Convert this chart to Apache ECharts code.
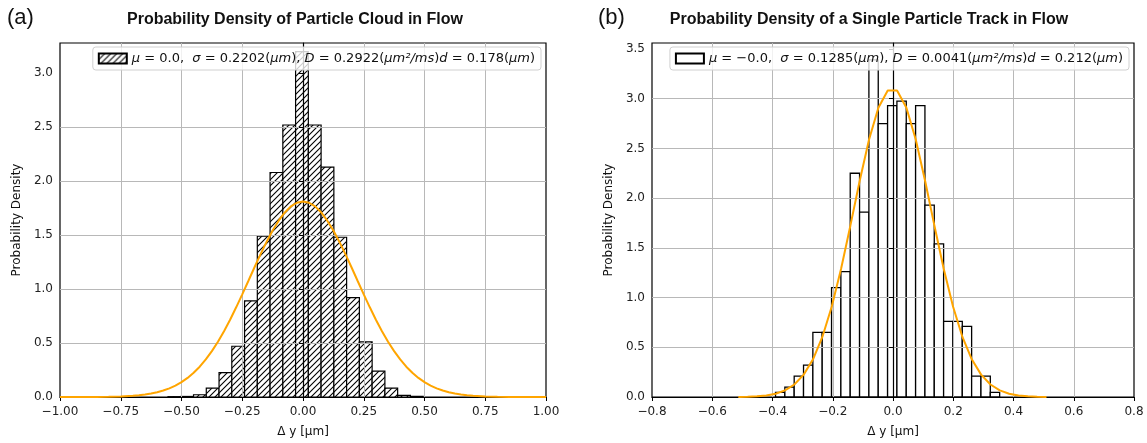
<!DOCTYPE html>
<html>
<head>
<meta charset="utf-8">
<script src="https://cdn.jsdelivr.net/npm/echarts@6.0.0/dist/echarts.min.js"></script>
<style>
    html, body { margin: 0; padding: 0; background: #fff; }
    #chart { width: 1147px; height: 443px; }
</style>
</head>
<body>
<div id="chart"></div>
<script>
// (a) particle cloud: histogram bin edges and densities
var binEdgesA = [-0.5555, -0.503, -0.4505, -0.398, -0.3455, -0.293, -0.2405, -0.188, -0.1355, -0.083, -0.0305,
    0.022, 0.0745, 0.127, 0.1795, 0.232, 0.2845, 0.337, 0.3895, 0.442, 0.4945];
var densityA = [0.003, 0.005, 0.021, 0.082, 0.226, 0.47, 0.89, 1.49, 2.08, 2.52,
    3.2, 2.52, 2.13, 1.48, 0.92, 0.51, 0.24, 0.082, 0.015, 0.006];
// (a) fitted gaussian
var fitXA = [-1, -0.95, -0.9, -0.85, -0.8, -0.75, -0.7, -0.675, -0.65, -0.625, -0.6, -0.575, -0.55, -0.525,
    -0.5, -0.475, -0.45, -0.425, -0.4, -0.375, -0.35, -0.325, -0.3, -0.275, -0.25, -0.225, -0.2, -0.175,
    -0.15, -0.125, -0.1, -0.075, -0.05, -0.025, 0,
    0.025, 0.05, 0.075, 0.1, 0.125, 0.15, 0.175, 0.2, 0.225, 0.25, 0.275, 0.3, 0.325, 0.35, 0.375, 0.4,
    0.425, 0.45, 0.475, 0.5, 0.525, 0.55, 0.575, 0.6, 0.625, 0.65, 0.675, 0.7, 0.75, 0.8, 0.85, 0.9, 0.95, 1];
var fitYA = [0.0001, 0.0002, 0.0004, 0.0011, 0.0025, 0.0055, 0.0116, 0.0165, 0.0232, 0.0323, 0.0442, 0.0599,
    0.0801, 0.1056, 0.1376, 0.177, 0.2245, 0.281, 0.348, 0.425, 0.512, 0.61, 0.716, 0.831, 0.951, 1.075,
    1.2, 1.321, 1.437, 1.542, 1.634, 1.71, 1.766, 1.8, 1.812,
    1.8, 1.766, 1.71, 1.634, 1.542, 1.437, 1.321, 1.2, 1.075, 0.951, 0.831, 0.716, 0.61, 0.512, 0.425,
    0.348, 0.281, 0.2245, 0.177, 0.1376, 0.1056, 0.0801, 0.0599, 0.0442, 0.0323, 0.0232, 0.0165, 0.0116,
    0.0055, 0.0025, 0.0011, 0.0004, 0.0002, 0.0001];

// (b) single particle track
var binEdgesB = [-0.39, -0.359, -0.328, -0.297, -0.266, -0.235, -0.204, -0.173, -0.142, -0.111, -0.08,
    -0.049, -0.018, 0.013, 0.044, 0.075, 0.106, 0.137, 0.168, 0.199, 0.23, 0.261, 0.292, 0.323, 0.354];
var densityB = [0.047, 0.1, 0.21, 0.32, 0.65, 0.65, 1.1, 1.26, 2.25, 1.86,
    3.39, 2.75, 2.93, 2.975, 2.75, 2.93, 1.93, 1.54, 0.76, 0.76, 0.71, 0.21, 0.21, 0.047];
var fitXB = [-0.5135, -0.4825, -0.4515, -0.4205, -0.3895, -0.3585, -0.3275, -0.2965, -0.2655, -0.2345,
    -0.2035, -0.1725, -0.1415, -0.1105, -0.0795, -0.0485, -0.0175, 0.0135, 0.0445, 0.0755, 0.1065, 0.1375,
    0.1685, 0.1995, 0.2305, 0.2615, 0.2925, 0.3235, 0.3545, 0.3855, 0.4165, 0.4475, 0.4785, 0.5095];
var fitYB = [0.0011, 0.0029, 0.0068, 0.0154, 0.0329, 0.0662, 0.1255, 0.225, 0.379, 0.604,
    0.908, 1.288, 1.723, 2.174, 2.589, 2.908, 3.083, 3.083, 2.908, 2.589, 2.174, 1.723,
    1.288, 0.908, 0.604, 0.379, 0.225, 0.1255, 0.0662, 0.0329, 0.0154, 0.0068, 0.0029, 0.0011];

// tick labels
var xTicksA = [-1, -0.75, -0.5, -0.25, 0, 0.25, 0.5, 0.75, 1];
var yTicksA = [0, 0.5, 1, 1.5, 2, 2.5, 3];
var xTicksB = [-0.8, -0.6, -0.4, -0.2, 0, 0.2, 0.4, 0.6, 0.8];
var yTicksB = [0, 0.5, 1, 1.5, 2, 2.5, 3, 3.5];

var titleA = 'Probability Density of Particle Cloud in Flow';
var titleB = 'Probability Density of a Single Particle Track in Flow';
var legendA = 'mu=0.0 sigma=0.2202';
var legendB = 'mu=-0.0 sigma=0.1285';
var legendRich = {};
legendRich[legendA] = '{i|\u03bc} = 0.0,  {i|\u03c3} = 0.2202({i|\u03bcm}), {i|D} = 0.2922({i|\u03bcm\u00b2/ms}){i|d} = 0.178({i|\u03bcm})';
legendRich[legendB] = '{i|\u03bc} = \u22120.0,  {i|\u03c3} = 0.1285({i|\u03bcm}), {i|D} = 0.0041({i|\u03bcm\u00b2/ms}){i|d} = 0.212({i|\u03bcm})';

var font = 'DejaVu Sans';
var orange = '#FFA500';

function pairs(xs, ys) {
    var out = [];
    for (var i = 0; i < xs.length; i++) {
        out.push([xs[i], ys[i]]);
    }
    return out;
}

// [left edge, right edge, density] per bin
function bins(edges, dens) {
    var out = [];
    for (var i = 0; i < dens.length; i++) {
        out.push([edges[i], edges[i + 1], dens[i]]);
    }
    return out;
}

// '//' hatch like matplotlib
function hatch() {
    var s = 6, c = document.createElement('canvas');
    c.width = s; c.height = s;
    var g = c.getContext('2d');
    g.fillStyle = '#fff';
    g.fillRect(0, 0, s, s);
    g.strokeStyle = '#000';
    g.lineWidth = 1.1;
    g.beginPath();
    g.moveTo(0, s); g.lineTo(s, 0);
    g.moveTo(-1, 1); g.lineTo(1, -1);
    g.moveTo(s - 1, s + 1); g.lineTo(s + 1, s - 1);
    g.stroke();
    return {image: c, repeat: 'repeat'};
}

function renderBin(params, api) {
    var p0 = api.coord([api.value(0), api.value(2)]);
    var p1 = api.coord([api.value(1), 0]);
    return {
        type: 'rect',
        shape: {x: p0[0], y: p0[1], width: p1[0] - p0[0], height: p1[1] - p0[1]},
        style: api.style()
    };
}

function fmt(digits) {
    return function (v) {
        if (Math.abs(v) < 1e-9) v = 0;
        return v.toFixed(digits).replace('-', '\u2212');
    };
}

function xAxisOf(gi, ticks, digits) {
    return {
        gridIndex: gi, type: 'value', z: 3,
        min: ticks[0], max: ticks[ticks.length - 1], interval: ticks[1] - ticks[0],
        name: '\u0394 y [\u03bcm]', nameLocation: 'middle', nameGap: 29,
        nameTextStyle: {fontFamily: font, fontSize: 12, color: '#111'},
        axisLine: {show: true, onZero: false, lineStyle: {color: '#000', width: 1.2}},
        axisTick: {show: true, length: 4, lineStyle: {color: '#000', width: 1}},
        axisLabel: {formatter: fmt(digits), fontFamily: font, fontSize: 12, color: '#222', margin: 9},
        splitLine: {show: true, showMinLine: false, showMaxLine: false, lineStyle: {color: '#b8b8b8', width: 1}}
    };
}

function yAxisOf(gi, ticks, max) {
    return {
        gridIndex: gi, type: 'value', z: 3,
        min: 0, max: max, interval: 0.5,
        name: 'Probability Density', nameLocation: 'middle', nameGap: 37,
        nameTextStyle: {fontFamily: font, fontSize: 12, color: '#111'},
        axisLine: {show: true, lineStyle: {color: '#000', width: 1.2}},
        axisTick: {show: true, length: 4, customValues: ticks, lineStyle: {color: '#000', width: 1}},
        axisLabel: {formatter: fmt(1), customValues: ticks, fontFamily: font, fontSize: 12, color: '#222', margin: 7},
        splitLine: {show: true, showMinLine: false, showMaxLine: false, lineStyle: {color: '#b8b8b8', width: 1}}
    };
}

function legendOf(name, right) {
    return {
        data: [name], top: 47, right: right, icon: 'rect', selectedMode: false,
        itemWidth: 28, itemHeight: 10, itemGap: 0,
        padding: [5, 6, 5, 5],
        backgroundColor: 'rgba(255,255,255,0.8)', borderColor: '#d0d0d0', borderWidth: 1, borderRadius: 3,
        formatter: function (n) { return legendRich[n]; },
        textStyle: {
            fontFamily: font, fontSize: 13, color: '#111',
            rich: {i: {fontFamily: font, fontSize: 13, fontStyle: 'italic', color: '#111'}}
        }
    };
}

var myChart = echarts.init(document.getElementById('chart'));

var option = {
    animation: false,
    backgroundColor: '#fff',
    grid: [
        {left: 60, top: 43, width: 486, height: 358, show: true, borderColor: '#000', borderWidth: 1.2},
        {left: 652, top: 43, width: 482, height: 358, show: true, borderColor: '#000', borderWidth: 1.2}
    ],
    xAxis: [xAxisOf(0, xTicksA, 2), xAxisOf(1, xTicksB, 1)],
    yAxis: [yAxisOf(0, yTicksA, 3.28), yAxisOf(1, yTicksB, 3.56)],
    legend: [legendOf(legendA, 606), legendOf(legendB, 18)],
    graphic: [
        {type: 'text', left: 7, top: 7, style: {text: '(a)', font: '22px "Liberation Sans"', fill: '#111'}},
        {type: 'text', x: 295, y: 20, style: {text: titleA, textAlign: 'center', textVerticalAlign: 'middle',
            font: 'bold 16px "Liberation Sans"', fill: '#111'}},
        {type: 'text', left: 598, top: 7, style: {text: '(b)', font: '22px "Liberation Sans"', fill: '#111'}},
        {type: 'text', x: 869, y: 20, style: {text: titleB, textAlign: 'center', textVerticalAlign: 'middle',
            font: 'bold 16px "Liberation Sans"', fill: '#111'}}
    ],
    series: [
        {
            name: legendA, type: 'custom', xAxisIndex: 0, yAxisIndex: 0, z: 1,
            renderItem: renderBin,
            encode: {x: [0, 1], y: 2},
            data: bins(binEdgesA, densityA),
            itemStyle: {color: hatch(), borderColor: '#000', borderWidth: 1.2}
        },
        {
            name: 'fitA', type: 'line', xAxisIndex: 0, yAxisIndex: 0, z: 4,
            showSymbol: false, data: pairs(fitXA, fitYA),
            lineStyle: {color: orange, width: 2}
        },
        {
            name: legendB, type: 'custom', xAxisIndex: 1, yAxisIndex: 1, z: 1,
            renderItem: renderBin,
            encode: {x: [0, 1], y: 2},
            data: bins(binEdgesB, densityB),
            itemStyle: {color: '#fff', borderColor: '#000', borderWidth: 1.3}
        },
        {
            name: 'fitB', type: 'line', xAxisIndex: 1, yAxisIndex: 1, z: 4,
            showSymbol: false, data: pairs(fitXB, fitYB),
            lineStyle: {color: orange, width: 2}
        }
    ]
};

myChart.setOption(option);
</script>
</body>
</html>
